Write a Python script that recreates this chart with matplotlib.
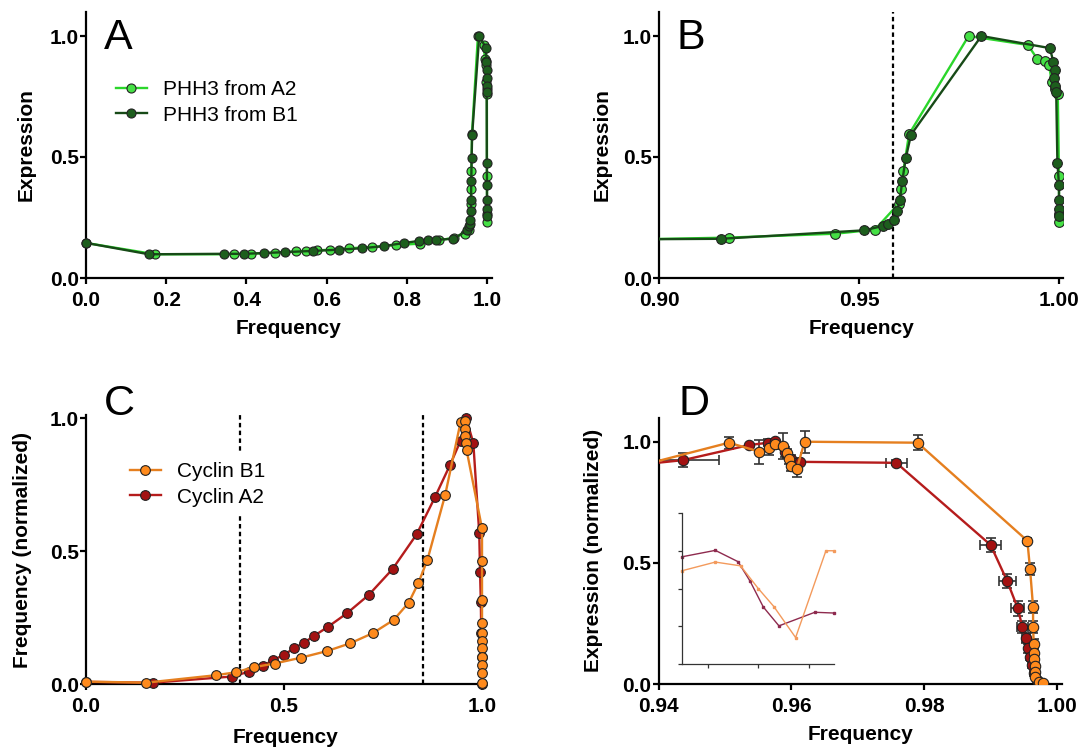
import numpy as np
import matplotlib
matplotlib.use("Agg")
import matplotlib.pyplot as plt

plt.rcParams["font.family"] = ["Liberation Sans", "DejaVu Sans"]

W, H = 1081, 747

# ---- panel A/B: PHH3 expression vs cumulative frequency
phh3_a2_x = [0.0, 0.172, 0.368, 0.411, 0.472, 0.524, 0.549, 0.577, 0.608, 0.657, 0.713,
             0.773, 0.833, 0.880, 0.9175, 0.9441, 0.954, 0.9599, 0.9605, 0.9611, 0.9625,
             0.9774, 0.9922, 0.9946, 0.9964, 0.9975, 0.9982, 0.9990, 0.9997, 1.0, 1.0, 1.0]
phh3_a2_y = [0.145, 0.098, 0.098, 0.100, 0.105, 0.110, 0.112, 0.114, 0.117, 0.123, 0.128,
             0.136, 0.142, 0.155, 0.167, 0.183, 0.200, 0.307, 0.366, 0.442, 0.594,
             1.0, 0.963, 0.905, 0.895, 0.88, 0.81, 0.78, 0.76, 0.421, 0.266, 0.231]
phh3_b1_x = [0.0, 0.157, 0.344, 0.394, 0.443, 0.497, 0.567, 0.630, 0.688, 0.744, 0.793,
             0.830, 0.854, 0.873, 0.9155, 0.9513, 0.9559, 0.9572, 0.9587, 0.9595, 0.9602,
             0.9608, 0.9617, 0.9630, 0.9806, 0.9977, 0.9986, 0.9989, 0.9988, 0.9989, 0.9993,
             0.9996, 1.0, 1.0, 1.0, 1.0]
phh3_b1_y = [0.145, 0.098, 0.100, 0.100, 0.103, 0.107, 0.112, 0.117, 0.123, 0.132, 0.145,
             0.153, 0.158, 0.158, 0.162, 0.197, 0.215, 0.222, 0.238, 0.277, 0.321,
             0.399, 0.496, 0.592, 1.0, 0.950, 0.893, 0.858, 0.828, 0.792, 0.769,
             0.475, 0.386, 0.321, 0.284, 0.255]
b_cutoff = 0.9586

# ---- panel C: cyclin distributions
cycb1_x = [0.0, 0.152, 0.328, 0.378, 0.423, 0.476, 0.543, 0.609, 0.667, 0.724, 0.777,
           0.815, 0.839, 0.862, 0.907, 0.946, 0.957, 0.957, 0.958, 0.960, 0.961,
           1.0, 1.0, 1.0, 1.0, 1.0, 1.0, 1.0, 1.0, 1.0, 1.0, 1.0]
cycb1_y = [0.009, 0.005, 0.033, 0.044, 0.063, 0.077, 0.099, 0.124, 0.153, 0.191, 0.241,
           0.306, 0.379, 0.466, 0.711, 0.986, 0.99, 0.957, 0.932, 0.907, 0.88,
           0.585, 0.464, 0.316, 0.230, 0.190, 0.163, 0.134, 0.103, 0.071, 0.040, 0.005]
cyca2_x = [0.0, 0.169, 0.368, 0.411, 0.446, 0.473, 0.499, 0.525, 0.551, 0.576, 0.612,
           0.659, 0.714, 0.774, 0.835, 0.881, 0.919, 0.946, 0.960, 0.978, 0.993,
           0.995, 0.997, 0.998, 1.0, 1.0]
cyca2_y = [0.008, 0.005, 0.028, 0.046, 0.068, 0.090, 0.109, 0.134, 0.156, 0.181, 0.216,
           0.266, 0.335, 0.432, 0.563, 0.702, 0.823, 0.915, 0.999, 0.907, 0.567,
           0.422, 0.310, 0.190, 0.100, 0.0]
c_cutoffs = [0.39, 0.85]

# ---- panel D: expression vs frequency, with errors
d_a2_x = [0.930, 0.9437, 0.9536, 0.9565, 0.9576, 0.9590, 0.9600, 0.9607, 0.9613, 0.9758,
          0.9900, 0.9925, 0.9941, 0.9948, 0.9953, 0.99565, 0.9959, 0.9962, 0.99655,
          0.99705, 0.99755]
d_a2_y = [0.885, 0.924, 0.986, 0.996, 1.004, 0.959, 0.927, 0.911, 0.917, 0.913,
          0.574, 0.425, 0.312, 0.234, 0.189, 0.147, 0.113, 0.078, 0.044, 0.016, 0.003]
d_a2_xerr = [0, 0.0054, 0, 0, 0, 0, 0, 0, 0, 0.0016,
             0.0016, 0.0013, 0.0010, 0.0008, 0.0006, 0.0005, 0.0004, 0.0003, 0.0002, 0, 0]
d_a2_yerr = [0, 0.03, 0, 0.015, 0, 0.02, 0.02, 0.02, 0, 0.01,
             0.03, 0.03, 0.03, 0.025, 0.02, 0.02, 0.015, 0.01, 0.01, 0, 0]
d_b1_x = [0.930, 0.9506, 0.9552, 0.9566, 0.9575, 0.9587, 0.9593, 0.9596, 0.9600, 0.9608,
          0.9620, 0.9790, 0.99554, 0.99595, 0.9964, 0.9964, 0.9965, 0.9966, 0.9966,
          0.9967, 0.9967, 0.9967, 0.9973, 0.9979]
d_b1_y = [0.850, 0.996, 0.959, 0.975, 0.989, 0.982, 0.952, 0.927, 0.900, 0.886,
          1.000, 0.996, 0.591, 0.473, 0.317, 0.234, 0.165, 0.129, 0.102,
          0.075, 0.051, 0.030, 0.007, 0.003]
d_b1_yerr = [0, 0.025, 0.05, 0.03, 0.02, 0.055, 0.02, 0.02, 0.02, 0.03,
             0.045, 0.03, 0.01, 0.025, 0.025, 0.025, 0.02, 0.02, 0.015,
             0.01, 0.01, 0, 0, 0]

# inset: close-up of the dip (arbitrary units)
inset_a2_x = [-0.51, 0.15, 0.60, 0.84, 1.10, 1.41, 2.12, 2.50]
inset_a2_y = [2.84, 3.01, 2.71, 2.19, 1.51, 1.01, 1.37, 1.35]
inset_b1_x = [-0.51, 0.15, 0.65, 1.00, 1.31, 1.74, 2.34, 2.50]
inset_b1_y = [2.47, 2.70, 2.60, 2.00, 1.52, 0.70, 3.00, 3.00]

LIGHT_G, LIGHT_G_LINE = "#45e045", "#2bd62b"
DARK_G, DARK_G_LINE = "#1d5e1d", "#174a17"
ORANGE, ORANGE_LINE = "#ff8a1c", "#e57f1f"
RED, RED_LINE = "#a31212", "#b51c1c"

TICK_FS = 15
LABEL_FS = 15


def px_axes(fig, left, right, top, bottom):
    return fig.add_axes([left / W, 1 - bottom / H, (right - left) / W, (bottom - top) / H])


def style(ax, xticks, yticks, xfmt, xlabel, ylabel, ylab_x, xlab_y):
    for s in ("top", "right"):
        ax.spines[s].set_visible(False)
    for s in ("left", "bottom"):
        ax.spines[s].set_linewidth(1.6)
    ax.set_xticks(xticks)
    ax.set_xticklabels([xfmt.format(t) for t in xticks], fontweight="bold", fontsize=TICK_FS)
    ax.set_yticks(yticks)
    ax.set_yticklabels([f"{t:.1f}" for t in yticks], fontweight="bold", fontsize=TICK_FS)
    ax.tick_params(axis="both", direction="out", length=4, width=1.6)
    ax.tick_params(axis="x", pad=5)
    ax.tick_params(axis="y", pad=1)
    ax.set_xlabel(xlabel, fontweight="bold", fontsize=LABEL_FS, va="center")
    ax.set_ylabel(ylabel, fontweight="bold", fontsize=LABEL_FS, va="center")
    ax.xaxis.set_label_coords(0.5, xlab_y)
    ax.yaxis.set_label_coords(ylab_x, 0.5)


def curve(ax, x, y, face, line, ms, clip, label=None):
    ax.plot(x, y, color=line, lw=1.7, marker="o", ms=ms, mfc=face, mec="#222222",
            mew=0.8, clip_on=clip, label=label, zorder=3)


fig = plt.figure(figsize=(W / 100, H / 100), dpi=100)

# A
ax = px_axes(fig, 86, 491.8, 11.8, 278)
curve(ax, phh3_a2_x, phh3_a2_y, LIGHT_G, LIGHT_G_LINE, 6.5, False, "PHH3 from A2")
curve(ax, phh3_b1_x, phh3_b1_y, DARK_G, DARK_G_LINE, 6.5, False, "PHH3 from B1")
ax.set_xlim(0, 1.012)
ax.set_ylim(0, 1.1)
style(ax, [0, 0.2, 0.4, 0.6, 0.8, 1.0], [0, 0.5, 1.0], "{:.1f}", "Frequency", "Expression",
      -0.148, -0.188)
ax.legend(loc="center left", bbox_to_anchor=(97 / W, 1 - 102.5 / H),
          bbox_transform=fig.transFigure, frameon=False, fontsize=15, numpoints=1,
          handlelength=1.5, handletextpad=0.75, labelspacing=0.3, borderpad=0.4)
fig.text(104 / W, 1 - 49 / H, "A", fontsize=31, va="baseline")

# B
ax = px_axes(fig, 659, 1063, 11.8, 278)
curve(ax, phh3_a2_x, phh3_a2_y, LIGHT_G, LIGHT_G_LINE, 7, True)
curve(ax, phh3_b1_x, phh3_b1_y, DARK_G, DARK_G_LINE, 7, True)
ax.axvline(b_cutoff, color="black", lw=1.6, ls=(0, (2, 1.5)), zorder=2)
ax.set_xlim(0.90, 1.001)
ax.set_ylim(0, 1.1)
style(ax, [0.90, 0.95, 1.00], [0, 0.5, 1.0], "{:.2f}", "Frequency", "Expression",
      -0.14, -0.188)
fig.text(677 / W, 1 - 49 / H, "B", fontsize=31, va="baseline")

# C
ax = px_axes(fig, 86, 484, 415.4, 684)
curve(ax, cyca2_x, cyca2_y, RED, RED_LINE, 7, False, "Cyclin A2")
curve(ax, cycb1_x, cycb1_y, ORANGE, ORANGE_LINE, 7, False, "Cyclin B1")
for c in c_cutoffs:
    ax.axvline(c, color="black", lw=1.6, ls=(0, (2, 1.5)), zorder=2)
ax.set_xlim(0, 1.005)
ax.set_ylim(0, 1.01)
style(ax, [0, 0.5, 1.0], [0, 0.5, 1.0], "{:.1f}", "Frequency", "Frequency (normalized)",
      -0.16, -0.198)
h, l = ax.get_legend_handles_labels()
leg = ax.legend(h[::-1], l[::-1], loc="center left", bbox_to_anchor=(111 / W, 1 - 484.5 / H),
                bbox_transform=fig.transFigure, frameon=True, fontsize=15, numpoints=1,
                handlelength=1.5, handletextpad=0.75, labelspacing=0.3, borderpad=0.4,
                fancybox=False)
leg.get_frame().set_edgecolor("none")
leg.get_frame().set_facecolor("white")
leg.get_frame().set_alpha(1)
leg.set_zorder(5)
fig.text(104 / W, 1 - 415 / H, "C", fontsize=31, va="baseline")

# D
ax = px_axes(fig, 658.5, 1062.3, 417.5, 684)
a2x, a2y = np.array(d_a2_x), np.array(d_a2_y)
a2xe, a2ye = np.array(d_a2_xerr), np.array(d_a2_yerr)
b1x, b1y, b1ye = np.array(d_b1_x), np.array(d_b1_y), np.array(d_b1_yerr)
ebkw = dict(fmt="none", ecolor="#333333", elinewidth=1.2, capsize=3.5, capthick=1.2, zorder=2)
m = a2ye > 0
ax.errorbar(a2x[m], a2y[m], yerr=a2ye[m], **ebkw)
m = a2xe > 0
ax.errorbar(a2x[m], a2y[m], xerr=a2xe[m], **ebkw)
m = b1ye > 0
ax.errorbar(b1x[m], b1y[m], yerr=b1ye[m], **ebkw)
curve(ax, d_a2_x, d_a2_y, RED, RED_LINE, 7.5, True)
curve(ax, d_b1_x, d_b1_y, ORANGE, ORANGE_LINE, 7.5, True)
ax.set_xlim(0.94, 1.0008)
ax.set_ylim(0, 1.1)
style(ax, [0.94, 0.96, 0.98, 1.00], [0, 0.5, 1.0], "{:.2f}", "Frequency",
      "Expression (normalized)", -0.161, -0.19)
fig.text(679 / W, 1 - 415 / H, "D", fontsize=31, va="baseline")

# inset
ins = px_axes(fig, 682, 834, 513, 664)
ins.plot(inset_a2_x, inset_a2_y, color="#8e2a4e", lw=1.0, marker="s", ms=2, clip_on=False)
ins.plot(inset_b1_x, inset_b1_y, color="#f39a5c", lw=1.0, marker="s", ms=2, clip_on=False)
ins.set_xlim(-0.51, 2.5)
ins.set_ylim(0, 4)
ins.set_xticks([0, 1, 2])
ins.set_yticks([0, 1, 2, 3, 4])
ins.set_xticklabels([])
ins.set_yticklabels([])
for s in ("top", "right"):
    ins.spines[s].set_visible(False)
for s in ("left", "bottom"):
    ins.spines[s].set_linewidth(0.9)
    ins.spines[s].set_color("#333333")
ins.tick_params(direction="out", length=3, width=0.9, color="#333333")
ins.patch.set_alpha(0)

fig.savefig("out.png", dpi=100)
